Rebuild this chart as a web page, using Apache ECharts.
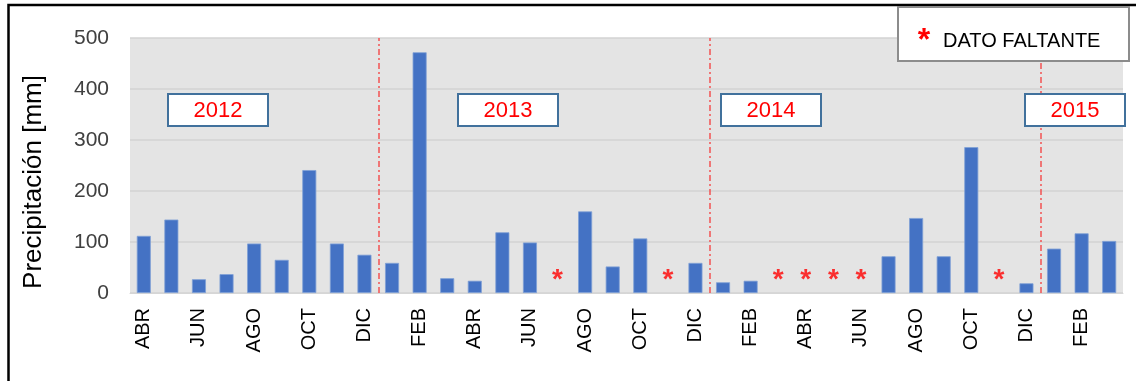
<!DOCTYPE html>
<html>
<head>
<meta charset="utf-8">
<script src="https://cdn.jsdelivr.net/npm/echarts@6/dist/echarts.min.js"></script>
<style>
  html, body { margin: 0; padding: 0; background: #ffffff; }
  #chart { width: 1140px; height: 381px; }
</style>
</head>
<body>
<div id="chart"></div>
<script>
// Monthly rainfall, April 2012 – March 2015 (null = missing record)
const months = [
  'ABR', 'MAY', 'JUN', 'JUL', 'AGO', 'SEP', 'OCT', 'NOV', 'DIC',
  'ENE', 'FEB', 'MAR', 'ABR', 'MAY', 'JUN', 'JUL', 'AGO', 'SEP', 'OCT', 'NOV', 'DIC',
  'ENE', 'FEB', 'MAR', 'ABR', 'MAY', 'JUN', 'JUL', 'AGO', 'SEP', 'OCT', 'NOV', 'DIC',
  'ENE', 'FEB', 'MAR'
];
const precipitation = [
  112, 144, 27, 37, 97, 65, 241, 97, 75,
  59, 472, 29, 24, 119, 99, null, 160, 52, 107, null, 59,
  21, 24, null, null, null, null, 72, 147, 72, 286, null, 19,
  87, 117, 102
];
const years = ['2012', '2013', '2014', '2015'];
const yTicks = [0, 100, 200, 300, 400, 500];
const missingLabel = 'DATO FALTANTE';

const FONT = 'Liberation Sans, Arial, sans-serif';
const MARK_LEVEL = 38; // height at which the missing-data asterisk sits

// year boundaries fall just before each January
const boundaries = [];
months.forEach((m, i) => { if (m === 'ENE') boundaries.push(i); });

const chart = echarts.init(document.getElementById('chart'), null, { renderer: 'canvas' });

const yearBox = (label, cx) => ({
  type: 'group',
  left: cx - 50,
  top: 93,
  children: [
    { type: 'rect', z: 50, shape: { x: 0, y: 0, width: 100, height: 32 },
      style: { fill: '#ffffff', stroke: '#41719C', lineWidth: 2 } },
    { type: 'text', z: 51, x: 50, y: 17,
      style: { text: label, fill: '#FF0000', font: '22px ' + FONT, align: 'center', verticalAlign: 'middle' } }
  ]
});

const yearCenters = [217, 507, 770, 1074];

chart.setOption({
  animation: false,
  backgroundColor: '#ffffff',
  grid: { left: 130, right: 17, top: 38, bottom: 88, show: true, backgroundColor: '#e4e4e4', borderWidth: 0 },
  xAxis: [
    {
      type: 'category',
      data: months,
      axisLine: { show: true, lineStyle: { color: '#d6d6d6', width: 1 } },
      axisTick: { show: false },
      axisLabel: { interval: 1, rotate: 90, fontSize: 20, color: '#000000', fontFamily: FONT, margin: 15 }
    },
    { type: 'value', min: 0, max: months.length, show: false }
  ],
  yAxis: {
    type: 'value',
    min: yTicks[0],
    max: yTicks[yTicks.length - 1],
    interval: 100,
    axisLine: { show: false },
    axisTick: { show: false },
    axisLabel: { fontSize: 21, color: '#404040', fontFamily: FONT, margin: 21 },
    splitLine: { lineStyle: { color: '#d3d3d3', width: 1.5 } }
  },
  series: [
    {
      type: 'bar',
      data: precipitation.map(v => v == null ? '-' : v),
      barWidth: 14,
      itemStyle: { color: '#4472C4', borderColor: '#7f9fd6', borderWidth: 0.8 },
      z: 3
    },
    {
      // red asterisk wherever a month has no record
      type: 'scatter',
      data: precipitation.map(v => v == null ? MARK_LEVEL : '-'),
      symbol: 'circle',
      symbolSize: 2,
      itemStyle: { color: 'rgba(0,0,0,0)' },
      label: {
        show: true, position: 'inside', formatter: '*',
        color: '#FF0000', fontSize: 28, fontWeight: 'bold', fontFamily: FONT, offset: [0, 7]
      },
      z: 4
    },
    {
      type: 'line',
      xAxisIndex: 1,
      data: [],
      markLine: {
        silent: true,
        symbol: 'none',
        label: { show: false },
        lineStyle: { color: '#f25b5b', width: 1.6, type: [6, 3, 2, 3] },
        data: boundaries.map(b => ({ xAxis: b }))
      }
    }
  ],
  graphic: [
    // axis title
    { type: 'text', x: 34, y: 182, rotation: Math.PI / 2, z: 20,
      style: { text: 'Precipitación [mm]', fill: '#000000', font: '26px ' + FONT, align: 'center', verticalAlign: 'middle' } },
    // outer frame
    { type: 'polyline', z: 60, shape: { points: [[8.5, 381], [8.5, 5], [1136, 5]] },
      style: { stroke: '#000000', lineWidth: 2.5, fill: null } },
    ...years.map((y, i) => yearBox(y, yearCenters[i])),
    // missing-data key
    { type: 'group', left: 897, top: 6, children: [
      { type: 'rect', z: 70, shape: { x: 0, y: 0, width: 231, height: 54 },
        style: { fill: '#ffffff', stroke: '#8c8c8c', lineWidth: 2 } },
      { type: 'text', z: 71, x: 26, y: 34,
        style: { text: '*', fill: '#FF0000', font: 'bold 32px ' + FONT, align: 'center', verticalAlign: 'middle' } },
      { type: 'text', z: 71, x: 45, y: 34,
        style: { text: missingLabel, fill: '#000000', font: '20px ' + FONT, align: 'left', verticalAlign: 'middle' } }
    ] }
  ]
});
</script>
</body>
</html>
